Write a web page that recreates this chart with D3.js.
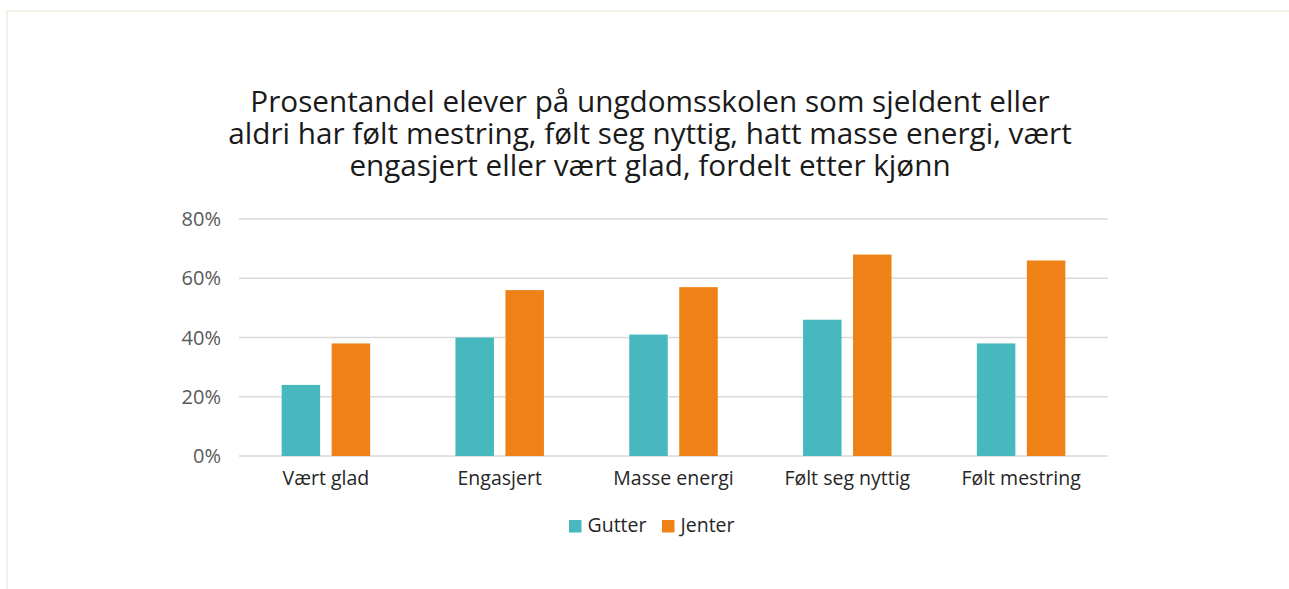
<!DOCTYPE html>
<html lang="no">
<head>
    <meta charset="UTF-8">
    <title>Mestring etter kjønn</title>
    <script src="https://d3js.org/d3.v7.min.js"></script>
    <style>
        body {
            margin: 0;
            background: #ffffff;
            font-family: "Open Sans", sans-serif;
        }
        .grid line {
            stroke: #d9d9d9;
            stroke-width: 1.5;
        }
        .tick-label {
            fill: #595959;
            font-size: 20px;
        }
        .cat-label {
            fill: #262626;
            font-size: 19.5px;
        }
        .title {
            fill: #1a1a1a;
            font-size: 29.7px;
        }
    </style>
</head>
<body>
    <svg width="1289" height="589"></svg>

    <script>
        // data
        let categories = ['Vært glad', 'Engasjert', 'Masse energi', 'Følt seg nyttig', 'Følt mestring'];
        let series = ['Gutter', 'Jenter'];
        let gutter = [24, 40, 41, 46, 38];
        let jenter = [38, 56, 57, 68, 66];
        let yTicks = [0, 20, 40, 60, 80];
        let titleLines = [
            'Prosentandel elever på ungdomsskolen som sjeldent eller',
            'aldri har følt mestring, følt seg nyttig, hatt masse energi, vært',
            'engasjert eller vært glad, fordelt etter kjønn'
        ];
        let colors = ['#47b9be', '#ee8216'];

        let svg = d3.select('svg');

        // frame
        svg.append('rect')
            .attr('x', 7).attr('y', 11)
            .attr('width', 1300).attr('height', 600)
            .attr('fill', 'none')
            .attr('stroke', '#f3f0e6')
            .attr('stroke-width', 2);

        let plotLeft = 239, plotRight = 1108, plotTop = 219, plotBottom = 456;
        let pairW = 88.5;

        let x = d3.scaleBand().domain(categories).range([plotLeft, plotRight]).paddingInner(0).paddingOuter(0);
        let y = d3.scaleLinear().domain([0, 80]).range([plotBottom, plotTop]);
        let inner = d3.scaleBand().domain(series).range([0, pairW]).paddingInner(0.23);

        // title
        svg.selectAll('.title').data(titleLines).enter().append('text')
            .attr('class', 'title')
            .attr('x', 650)
            .attr('y', (d, i) => 112 + i * 32)
            .attr('text-anchor', 'middle')
            .text(d => d);

        // gridlines
        svg.append('g').attr('class', 'grid')
            .selectAll('line').data(yTicks).enter().append('line')
            .attr('x1', plotLeft).attr('x2', plotRight)
            .attr('y1', d => y(d)).attr('y2', d => y(d));

        // y tick labels
        svg.selectAll('.tick-label').data(yTicks).enter().append('text')
            .attr('class', 'tick-label')
            .attr('x', 221)
            .attr('y', d => y(d) + 7)
            .attr('text-anchor', 'end')
            .text(d => d + '%');

        // bars
        let rows = categories.map((c, i) => ({cat: c, values: [gutter[i], jenter[i]]}));
        let groups = svg.selectAll('.grp').data(rows).enter().append('g')
            .attr('class', 'grp')
            .attr('transform', d => 'translate(' + (x(d.cat) + (x.bandwidth() - pairW) / 2) + ' 0)');

        groups.selectAll('rect').data(d => d.values.map((v, j) => ({s: series[j], v: v, j: j}))).enter().append('rect')
            .attr('x', d => inner(d.s))
            .attr('width', inner.bandwidth())
            .attr('y', d => y(d.v))
            .attr('height', d => y(0) - y(d.v))
            .attr('fill', d => colors[d.j]);

        // category labels
        svg.selectAll('.cat-label').data(categories).enter().append('text')
            .attr('class', 'cat-label')
            .attr('x', d => x(d) + x.bandwidth() / 2)
            .attr('y', 485)
            .attr('text-anchor', 'middle')
            .text(d => d);

        // legend
        let legendX = [569, 662];
        let legend = svg.selectAll('.legend').data(series).enter().append('g')
            .attr('class', 'legend')
            .attr('transform', (d, i) => 'translate(' + legendX[i] + ' 520)');
        legend.append('rect')
            .attr('width', 12.5).attr('height', 12.5)
            .attr('fill', (d, i) => colors[i]);
        legend.append('text')
            .attr('class', 'cat-label')
            .attr('x', i => 18.5).attr('y', 12)
            .text(d => d);
    </script>
</body>
</html>
